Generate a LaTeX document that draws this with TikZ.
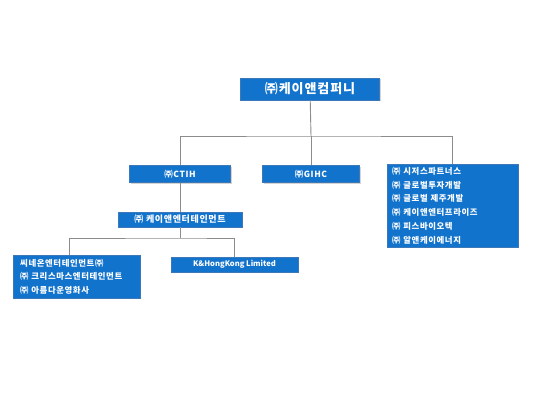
\documentclass[tikz,border=0pt]{standalone}
\usepackage{fontspec}
\setmainfont{Noto Sans CJK KR}
\usepackage{tikz}
\usetikzlibrary{positioning,shadows}
\definecolor{boxblue}{HTML}{1273CC}
\definecolor{boxedge}{HTML}{3D78B8}
\definecolor{linkgray}{HTML}{8C8C8C}
\newcommand{\boxfont}[1]{\bfseries\fontsize{#1}{13.8}\selectfont\addfontfeature{LetterSpace=7}}
\tikzset{
  orgbox/.style={draw=boxedge,fill=boxblue,text=white,font=\bfseries,inner sep=0pt,
    drop shadow={opacity=0.35,shadow xshift=1pt,shadow yshift=-1.2pt}},
  listbox/.style={orgbox,align=left,anchor=north west,inner xsep=5pt,inner ysep=1pt},
  linkedge/.style={draw=linkgray,line width=0.9pt},
}
\begin{document}
\begin{tikzpicture}[x=1pt,y=-1pt]
  \useasboundingbox (0,0) rectangle (550,406);
  \node[orgbox,minimum width=139pt,minimum height=22pt,font=\boxfont{13}] (nTop) at (310,89) {㈜케이앤컴퍼니};
  \node[orgbox,minimum width=101pt,minimum height=17pt,font=\boxfont{8.5}] (nCtih) at (180,174) {㈜CTIH};
  \node[orgbox,minimum width=97pt,minimum height=17pt,font=\boxfont{8.5}] (nGihc) at (311,174) {㈜GIHC};
  \node[listbox,text width=121pt,minimum height=83pt,font=\boxfont{8.4}] (nGroup) at (387,164) {㈜ 시저스파트너스\\㈜ 글로벌투자개발\\㈜ 글로벌 제주개발\\㈜ 케이앤엔터프라이즈\\㈜ 피스바이오텍\\㈜ 알앤케이에너지};
  \node[orgbox,minimum width=124pt,minimum height=15pt,font=\boxfont{9}] (nEnt) at (180,219.5) {㈜ 케이앤엔터테인먼트};
  \node[listbox,inner xsep=7pt,text width=113pt,minimum height=43pt,font=\boxfont{8.4}] (nFilm) at (13,255) {씨네온엔터테인먼트㈜\\㈜ 크리스마스엔터테인먼트\\㈜ 아름다운영화사};
  \node[orgbox,minimum width=127pt,minimum height=15pt,font=\bfseries\fontsize{7.6}{9}\selectfont] (nHk) at (234.5,264.5) {K\&HongKong Limited};
  % connectors
  \coordinate (jTop) at (311,136);
  \coordinate (jEnt) at (180,238);
  \draw[linkedge] (nTop) -- (jTop);
  \draw[linkedge] (nCtih) |- (jTop) -| (nGroup);
  \draw[linkedge] (nGihc) -- (jTop);
  \draw[linkedge] (nCtih) -- (nEnt);
  \draw[linkedge] (nEnt) -- (jEnt);
  \draw[linkedge] ([xshift=56pt]nFilm.north west) |- (jEnt) -| (nHk);
\end{tikzpicture}
\end{document}
